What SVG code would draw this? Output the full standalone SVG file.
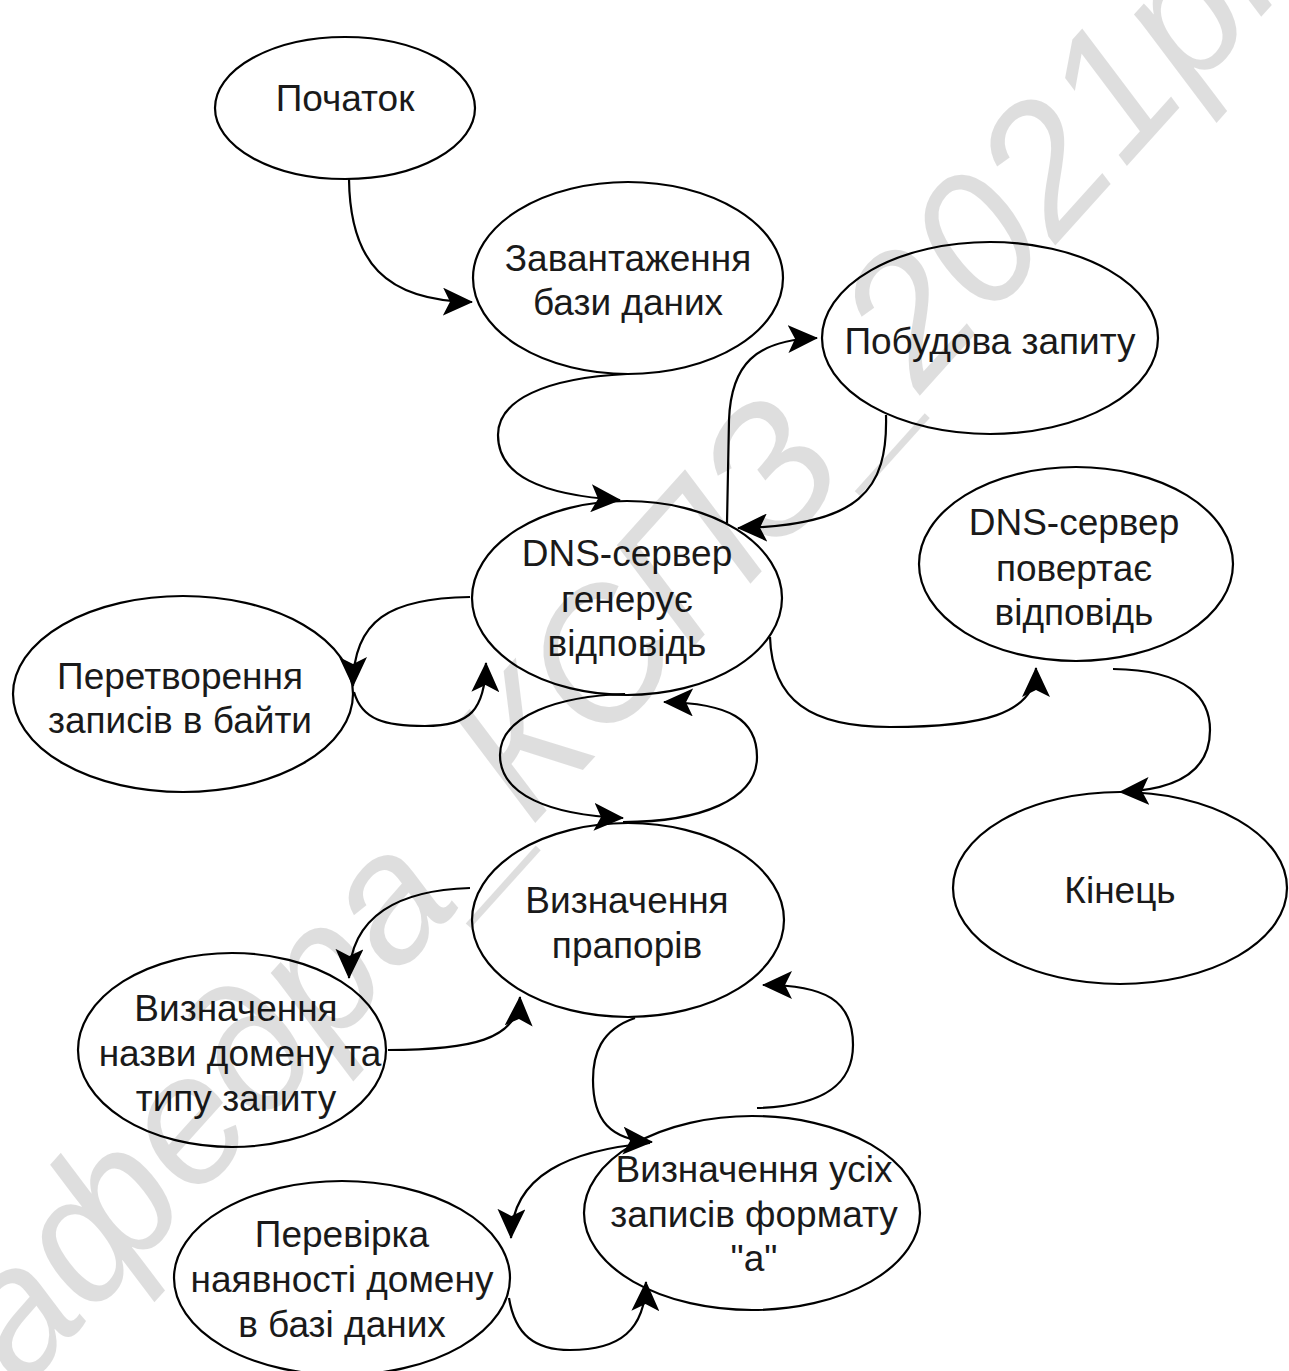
<svg xmlns="http://www.w3.org/2000/svg" width="1289" height="1371" viewBox="0 0 1289 1371">
<defs>
<style>
.node ellipse{fill:#fff;stroke:#000;stroke-width:2.2}
.node text{font-family:"Liberation Sans",Arial,sans-serif;font-size:37px;fill:#1a1a1a;text-anchor:middle}
.edges path{fill:none;stroke:#000;stroke-width:2.2;marker-end:url(#arr)}
.wm{font-family:"Liberation Sans",Arial,sans-serif;font-style:italic;font-size:182px;fill:#000;fill-opacity:0.13}
</style>
<marker id="arr" viewBox="0 0 30 28" refX="29" refY="14" markerWidth="30" markerHeight="28" markerUnits="userSpaceOnUse" orient="auto">
<path d="M0,0 L30,14 L0,28 L7,14 Z" fill="#000"/>
</marker>
</defs>
<rect width="1289" height="1371" fill="#fff"/>

<g id="n-start" class="node"><ellipse cx="345" cy="108" rx="130" ry="71"/><text x="345" y="111">Початок</text></g>
<g id="n-load" class="node"><ellipse cx="628" cy="278" rx="155" ry="96"/><text x="628" y="271">Завантаження</text><text x="628" y="315">бази даних</text></g>
<g id="n-build" class="node"><ellipse cx="990" cy="338" rx="168" ry="96"/><text x="990" y="354">Побудова запиту</text></g>
<g id="n-gen" class="node"><ellipse cx="627" cy="598" rx="155" ry="97"/><text x="627" y="566">DNS-сервер</text><text x="627" y="612">генерує</text><text x="627" y="656">відповідь</text></g>
<g id="n-ret" class="node"><ellipse cx="1076" cy="564" rx="157" ry="97"/><text x="1074" y="535">DNS-сервер</text><text x="1074" y="581">повертає</text><text x="1074" y="625">відповідь</text></g>
<g id="n-bytes" class="node"><ellipse cx="183" cy="694" rx="170" ry="98"/><text x="180" y="689">Перетворення</text><text x="180" y="733">записів в байти</text></g>
<g id="n-end" class="node"><ellipse cx="1120" cy="888" rx="167" ry="96"/><text x="1120" y="903">Кінець</text></g>
<g id="n-flags" class="node"><ellipse cx="628" cy="920" rx="156" ry="97"/><text x="627" y="913">Визначення</text><text x="627" y="958">прапорів</text></g>
<g id="n-name" class="node"><ellipse cx="232" cy="1050" rx="154" ry="97"/><text x="236" y="1021">Визначення</text><text x="240" y="1066">назви домену та</text><text x="236" y="1111">типу запиту</text></g>
<g id="n-all" class="node"><ellipse cx="752" cy="1213" rx="168" ry="97"/><text x="754" y="1182">Визначення усіх</text><text x="754" y="1227">записів формату</text><text x="754" y="1271">"а"</text></g>
<g id="n-check" class="node"><ellipse cx="342" cy="1278" rx="168" ry="97"/><text x="342" y="1247">Перевірка</text><text x="342" y="1292">наявності домену</text><text x="342" y="1337">в базі даних</text></g>

<g id="connectors" class="edges">
<path d="M349,179 C350,262 385,301 472,302"/>
<path d="M627,374 C545,378 498,400 498,435 C498,475 540,495 620,500"/>
<path d="M727,523 L729,420 C731,365 755,340 817,338"/>
<path d="M886,415 C888,490 860,526 738,528"/>
<path d="M470,597 C390,598 353,620 353,686"/>
<path d="M354,692 C362,720 385,726 425,726 C470,726 485,710 486,663"/>
<path d="M625,694 C560,696 500,715 500,755 C500,795 550,815 623,818"/>
<path d="M623,822 C700,822 757,800 757,757 C757,720 730,703 664,702"/>
<path d="M770,637 C772,700 810,727 890,727 C980,727 1036,715 1036,668"/>
<path d="M1113,669 C1190,670 1210,700 1210,730 C1210,770 1180,790 1120,792"/>
<path d="M470,888 C400,890 350,915 349,978"/>
<path d="M388,1050 C470,1050 518,1040 520,997"/>
<path d="M635,1018 C600,1030 593,1055 593,1080 C593,1120 610,1140 652,1142"/>
<path d="M757,1108 C830,1106 853,1080 853,1045 C853,1000 825,985 763,985"/>
<path d="M650,1143 C570,1150 512,1175 511,1238"/>
<path d="M509,1298 C515,1335 535,1350 570,1350 C620,1350 645,1330 646,1282"/>
</g>

<text class="wm" x="0" y="0" text-anchor="middle" transform="translate(655,690) rotate(-48)">кафедра_КСПЗ_2021рік</text>
</svg>
